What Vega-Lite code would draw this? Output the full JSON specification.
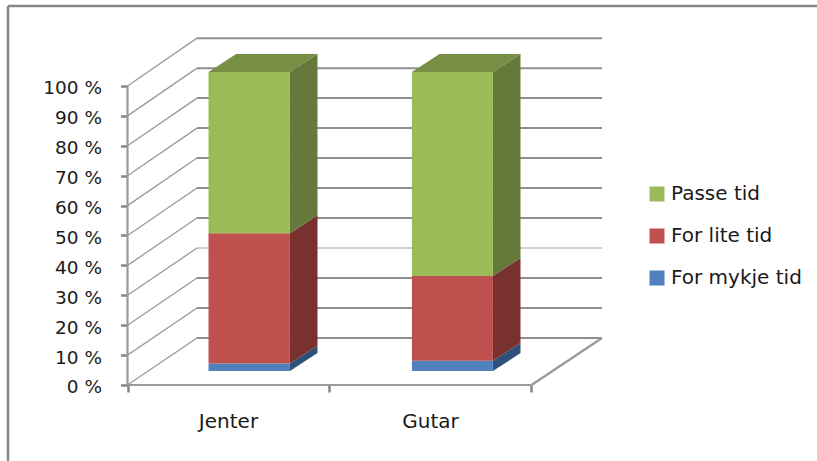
{
  "$schema": "https://vega.github.io/schema/vega-lite/v6.json",
  "autosize": {"type": "fit", "contains": "padding"},
  "width": 817,
  "height": 461,
  "padding": 0,
  "background": "white",
  "config": {"view": {"stroke": null}, "font": "DejaVu Sans"},
  "datasets": {
    "shares": [
      {"group": "Jenter", "series": "For mykje tid", "rank": 1, "share": 2.5, "left": 0.401, "right": 0.804},
      {"group": "Jenter", "series": "For lite tid", "rank": 2, "share": 43.6, "left": 0.401, "right": 0.804},
      {"group": "Jenter", "series": "Passe tid", "rank": 3, "share": 53.9, "left": 0.401, "right": 0.804},
      {"group": "Gutar", "series": "For mykje tid", "rank": 1, "share": 3.4, "left": 1.408, "right": 1.809},
      {"group": "Gutar", "series": "For lite tid", "rank": 2, "share": 28.4, "left": 1.408, "right": 1.809},
      {"group": "Gutar", "series": "Passe tid", "rank": 3, "share": 68.2, "left": 1.408, "right": 1.809}
    ],
    "sides": [
      {"group": "Jenter", "series": "For mykje tid", "x": 0.804, "low": 0, "high": 2.5},
      {"group": "Jenter", "series": "For mykje tid", "x": 0.9406, "low": 6, "high": 8.5},
      {"group": "Jenter", "series": "For lite tid", "x": 0.804, "low": 2.5, "high": 46.1},
      {"group": "Jenter", "series": "For lite tid", "x": 0.9406, "low": 8.5, "high": 52.1},
      {"group": "Jenter", "series": "Passe tid", "x": 0.804, "low": 46.1, "high": 100},
      {"group": "Jenter", "series": "Passe tid", "x": 0.9406, "low": 52.1, "high": 106},
      {"group": "Gutar", "series": "For mykje tid", "x": 1.809, "low": 0, "high": 3.4},
      {"group": "Gutar", "series": "For mykje tid", "x": 1.9455, "low": 6, "high": 9.4},
      {"group": "Gutar", "series": "For lite tid", "x": 1.809, "low": 3.4, "high": 31.8},
      {"group": "Gutar", "series": "For lite tid", "x": 1.9455, "low": 9.4, "high": 37.8},
      {"group": "Gutar", "series": "Passe tid", "x": 1.809, "low": 31.8, "high": 100},
      {"group": "Gutar", "series": "Passe tid", "x": 1.9455, "low": 37.8, "high": 106}
    ],
    "tops": [
      {"group": "Jenter", "level": 100, "from": 0.401, "to": 0.804},
      {"group": "Jenter", "level": 106, "from": 0.5376, "to": 0.9406},
      {"group": "Gutar", "level": 100, "from": 1.408, "to": 1.809},
      {"group": "Gutar", "level": 106, "from": 1.5445, "to": 1.9455}
    ],
    "walls": [
      {"tick": 0, "back": 15.72},
      {"tick": 10, "back": 25.75},
      {"tick": 20, "back": 35.78},
      {"tick": 30, "back": 45.8},
      {"tick": 40, "back": 55.83},
      {"tick": 50, "back": 65.86},
      {"tick": 60, "back": 75.89},
      {"tick": 70, "back": 85.92},
      {"tick": 80, "back": 95.95},
      {"tick": 90, "back": 105.97},
      {"tick": 100, "back": 116}
    ],
    "edges": [
      {"x": 0, "y": 0, "x2": 2, "y2": 0},
      {"x": 0, "y": 0, "x2": 0, "y2": 100},
      {"x": 2, "y": 0, "x2": 2.349, "y2": 15.72}
    ],
    "frame": [
      {"x": -0.5916, "y": 126.76, "x2": 3.4134, "y2": 126.76},
      {"x": -0.5916, "y": 126.76, "x2": -0.5916, "y2": -25.42}
    ],
    "groups": [
      {"group": "Jenter", "middle": 0.5, "below": -12.4},
      {"group": "Gutar", "middle": 1.5, "below": -12.4}
    ]
  },
  "encoding": {},
  "layer": [
    {
      "data": {"name": "frame"},
      "mark": {"type": "rule", "color": "#868686", "strokeWidth": 2.5, "clip": true},
      "encoding": {
        "x": {"field": "x", "type": "quantitative", "scale": {"domain": [-0.6312, 3.4134], "nice": false, "zero": false},
          "axis": {"values": [0, 1, 2], "labels": false, "title": null, "domain": false, "grid": false, "orient": "bottom", "offset": -76, "tickSize": 7, "tickWidth": 2.5, "tickColor": "#868686"}},
        "x2": {"field": "x2"},
        "y": {"field": "y", "type": "quantitative", "scale": {"domain": [-25.42, 128.76], "nice": false, "zero": false},
          "axis": {"values": [0, 10, 20, 30, 40, 50, 60, 70, 80, 90, 100], "labelExpr": "datum.value + ' %'", "title": null, "domain": false, "grid": false, "offset": -127.5, "tickSize": 7, "tickWidth": 2.5, "tickColor": "#868686", "labelPadding": 19, "labelFont": "DejaVu Sans", "labelFontSize": 18.5, "labelColor": "#1a1a1a", "labelOffset": 2}},
        "y2": {"field": "y2"}
      }
    },
    {
      "data": {"name": "walls"},
      "mark": {"type": "rule", "strokeWidth": 1.3, "color": "#9a9a9a"},
      "encoding": {
        "x": {"datum": 0, "type": "quantitative"},
        "x2": {"datum": 0.344},
        "y": {"field": "tick", "type": "quantitative", "scale": {"domain": [-25.42, 128.76], "nice": false, "zero": false}, "axis": null},
        "y2": {"field": "back"}
      }
    },
    {
      "data": {"name": "walls"},
      "mark": {"type": "rule", "strokeWidth": 2, "color": "#8f8f8f"},
      "encoding": {
        "x": {"datum": 0.344, "type": "quantitative"},
        "x2": {"datum": 2.349},
        "y": {"field": "back", "type": "quantitative", "scale": {"domain": [-25.42, 128.76], "nice": false, "zero": false}, "axis": null},
        "color": {"condition": {"test": "datum.tick === 30", "value": "#cfcfcf"}, "value": "#8f8f8f"}
      }
    },
    {
      "data": {"name": "edges"},
      "mark": {"type": "rule", "strokeWidth": 2.2, "color": "#9a9a9a"},
      "encoding": {
        "x": {"field": "x", "type": "quantitative"},
        "x2": {"field": "x2"},
        "y": {"field": "y", "type": "quantitative", "scale": {"domain": [-25.42, 128.76], "nice": false, "zero": false}, "axis": null},
        "y2": {"field": "y2"}
      }
    },
    {
      "data": {"name": "sides"},
      "mark": {"type": "area", "interpolate": "linear", "orient": "vertical"},
      "encoding": {
        "x": {"field": "x", "type": "quantitative"},
        "y": {"field": "low", "type": "quantitative", "scale": {"domain": [-30.1, 124.08], "nice": false, "zero": false}, "axis": null},
        "y2": {"field": "high"},
        "detail": [{"field": "group"}, {"field": "series"}],
        "color": {"field": "series", "type": "nominal", "legend": null,
          "scale": {"domain": ["Passe tid", "For lite tid", "For mykje tid"], "range": ["#66793B", "#79312F", "#2F5079"]}}
      }
    },
    {
      "data": {"name": "tops"},
      "mark": {"type": "area", "interpolate": "linear", "orient": "horizontal", "color": "#778F45"},
      "encoding": {
        "y": {"field": "level", "type": "quantitative", "scale": {"domain": [-30.1, 124.08], "nice": false, "zero": false}, "axis": null},
        "x": {"field": "from", "type": "quantitative"},
        "x2": {"field": "to"},
        "detail": {"field": "group"}
      }
    },
    {
      "data": {"name": "shares"},
      "transform": [
        {"stack": "share", "groupby": ["group"], "sort": [{"field": "rank", "order": "ascending"}], "as": ["low", "high"]}
      ],
      "mark": {"type": "rect"},
      "encoding": {
        "x": {"field": "left", "type": "quantitative"},
        "x2": {"field": "right"},
        "y": {"field": "low", "type": "quantitative", "scale": {"domain": [-30.1, 124.08], "nice": false, "zero": false}, "axis": null},
        "y2": {"field": "high"},
        "color": {"field": "series", "type": "nominal",
          "scale": {"domain": ["Passe tid", "For lite tid", "For mykje tid"], "range": ["#9BBB59", "#C0504D", "#4F81BD"]},
          "legend": {"orient": "none", "legendX": 647, "legendY": 184, "title": null, "symbolType": "square", "symbolSize": 225, "symbolStrokeWidth": 0, "labelFont": "DejaVu Sans", "labelFontSize": 20, "labelColor": "#1a1a1a", "labelOffset": 4, "rowPadding": 22, "symbolOpacity": 1}}
      }
    },
    {
      "data": {"name": "groups"},
      "mark": {"type": "text", "font": "DejaVu Sans", "fontSize": 20, "color": "#1a1a1a", "align": "center", "baseline": "middle"},
      "encoding": {
        "x": {"field": "middle", "type": "quantitative"},
        "y": {"field": "below", "type": "quantitative", "scale": {"domain": [-25.42, 128.76], "nice": false, "zero": false}, "axis": null},
        "text": {"field": "group"}
      }
    }
  ],
  "resolve": {"scale": {"y": "independent", "color": "independent"}}
}
